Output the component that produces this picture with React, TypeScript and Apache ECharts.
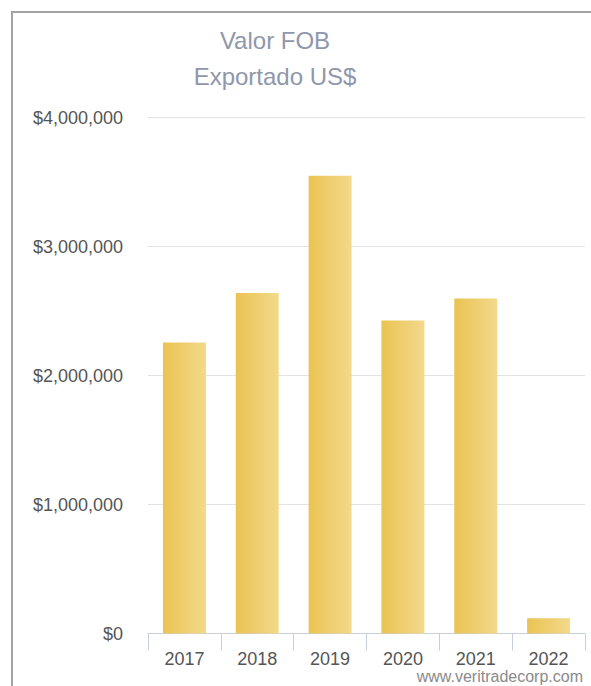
import React, { useEffect, useRef } from "react";
import * as echarts from "echarts";

const years = ["2017", "2018", "2019", "2020", "2021", "2022"];
const fobValues = [2256000, 2639000, 3549000, 2427000, 2597000, 118000];
const yTicks = [0, 1000000, 2000000, 3000000, 4000000];

function fmt(v: number) {
  return "$" + v.toLocaleString("en-US");
}

export default function App() {
  const ref = useRef<HTMLDivElement>(null);
  useEffect(() => {
    if (!ref.current) return;
    const chart = echarts.init(ref.current, null, { renderer: "svg" });
    chart.setOption({
      animation: false,
      backgroundColor: "#ffffff",
      title: {
        text: "Valor FOB\nExportado US$",
        left: 270,
        top: 17,
        textAlign: "center",
        textStyle: {
          fontFamily: "Liberation Sans, Arial, sans-serif",
          fontSize: 24,
          fontWeight: "normal",
          color: "#8f97ab",
          lineHeight: 36,
        },
      },
      graphic: [
        {
          type: "rect",
          shape: { x: 12, y: 12, width: 640, height: 720 },
          style: { fill: "none", stroke: "#a3a3a3", lineWidth: 2 },
          silent: true,
        },
        {
          type: "text",
          right: 8,
          top: 668,
          style: {
            text: "www.veritradecorp.com",
            fontFamily: "Liberation Sans, Arial, sans-serif",
            fontSize: 16,
            lineHeight: 15,
            fill: "#8a8a8a",
          },
        },
      ],
      grid: { left: 148, right: 6, top: 117.5, bottom: 52.5, containLabel: false },
      xAxis: {
        type: "category",
        data: years,
        axisLine: { lineStyle: { color: "#c5cfdf", width: 1 } },
        axisTick: { show: true, length: 17, lineStyle: { color: "#c5cfdf" } },
        axisLabel: {
          margin: 17,
          fontFamily: "Liberation Sans, Arial, sans-serif",
          fontSize: 18,
          lineHeight: 16,
          color: "#555555",
        },
      },
      yAxis: {
        type: "value",
        min: 0,
        max: yTicks[yTicks.length - 1],
        interval: 1000000,
        axisLine: { show: false },
        axisTick: { show: false },
        splitLine: { lineStyle: { color: "#e3e3e3", width: 1 } },
        axisLabel: {
          margin: 25,
          fontFamily: "Liberation Sans, Arial, sans-serif",
          fontSize: 18,
          color: "#555555",
          formatter: (v: number) => fmt(v),
        },
      },
      series: [
        {
          type: "bar",
          data: fobValues,
          barWidth: "59%",
          itemStyle: {
            color: new echarts.graphic.LinearGradient(0, 0, 1, 0, [
              { offset: 0, color: "#eac352" },
              { offset: 1, color: "#f3d98c" },
            ]),
          },
        },
      ],
    });
    return () => chart.dispose();
  }, []);
  return (
    <div
      ref={ref}
      style={{ position: "absolute", left: 0, top: 0, width: 591, height: 686 }}
    />
  );
}
